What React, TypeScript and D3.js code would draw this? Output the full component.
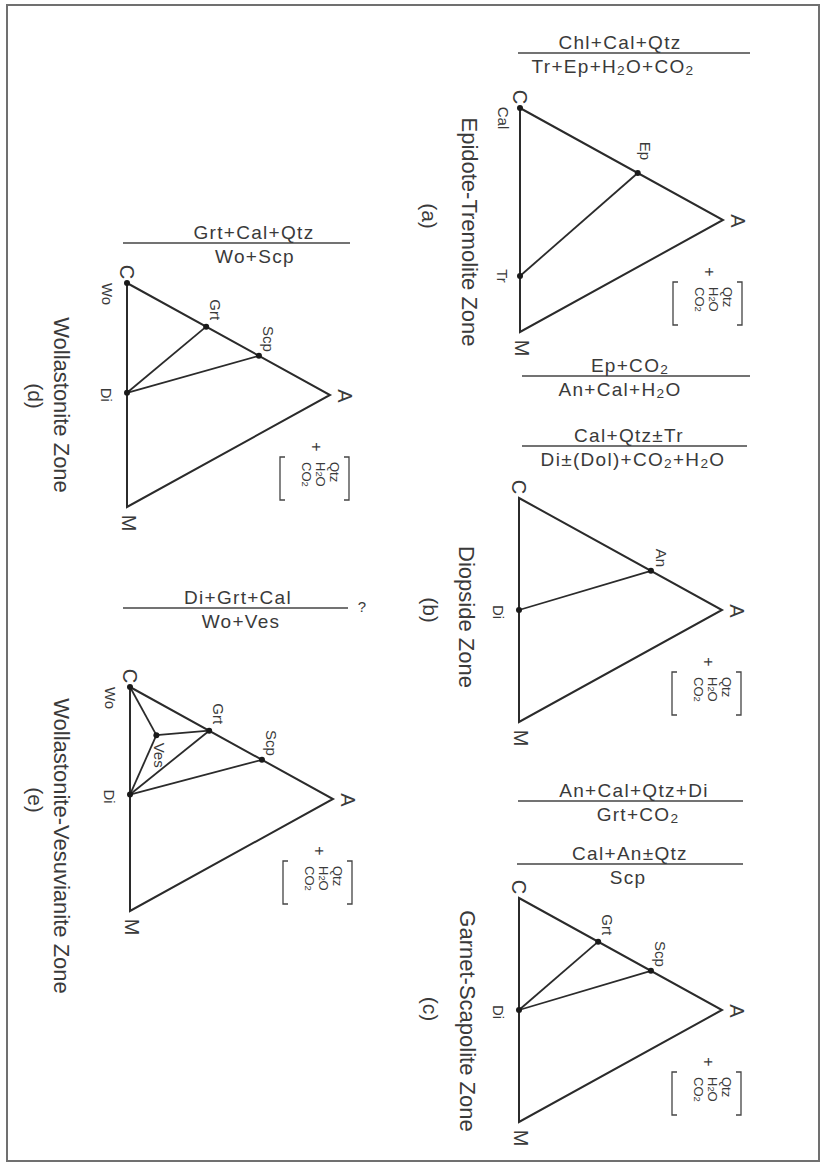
import React, { useEffect, useRef } from "react";
import * as d3 from "d3";

const W = 826;
const H = 1169;
const FONT = '"Liberation Sans", Arial, Helvetica, sans-serif';

// ---- data ----
const vertexNames = ["C", "A", "M"];
const panelLetters = ["(a)", "(b)", "(c)", "(d)", "(e)"];
const panelTitles = [
  "Epidote-Tremolite Zone",
  "Diopside Zone",
  "Garnet-Scapolite Zone",
  "Wollastonite Zone",
  "Wollastonite-Vesuvianite Zone",
];

// phase positions as fractions of C, A, M
const phasesA = [
  { name: "Cal", c: 1, a: 0, m: 0 },
  { name: "Ep", c: 0.42, a: 0.58, m: 0 },
  { name: "Tr", c: 0.25, a: 0, m: 0.75 },
];
const phasesB = [
  { name: "An", c: 0.35, a: 0.65, m: 0 },
  { name: "Di", c: 0.5, a: 0, m: 0.5 },
];
const phasesC = [
  { name: "Grt", c: 0.61, a: 0.39, m: 0 },
  { name: "Scp", c: 0.35, a: 0.65, m: 0 },
  { name: "Di", c: 0.5, a: 0, m: 0.5 },
];
const phasesD = [
  { name: "Wo", c: 1, a: 0, m: 0 },
  { name: "Grt", c: 0.61, a: 0.39, m: 0 },
  { name: "Scp", c: 0.35, a: 0.65, m: 0 },
  { name: "Di", c: 0.51, a: 0, m: 0.49 },
];
const phasesE = [
  { name: "Wo", c: 1, a: 0, m: 0 },
  { name: "Ves", c: 0.72, a: 0.13, m: 0.15 },
  { name: "Grt", c: 0.61, a: 0.39, m: 0 },
  { name: "Scp", c: 0.35, a: 0.65, m: 0 },
  { name: "Di", c: 0.52, a: 0, m: 0.48 },
];

const tiesA = [["Ep", "Tr"]];
const tiesB = [["Di", "An"]];
const tiesC = [["Di", "Grt"], ["Di", "Scp"]];
const tiesD = [["Di", "Grt"], ["Di", "Scp"]];
const tiesE = [["Wo", "Ves"], ["Ves", "Grt"], ["Ves", "Di"], ["Di", "Grt"], ["Di", "Scp"]];

const excessPhases = ["Qtz", "H2O", "CO2"];

const reactionNumerators = [
  "Chl+Cal+Qtz",
  "Ep+CO2",
  "Cal+Qtz±Tr",
  "An+Cal+Qtz+Di",
  "Cal+An±Qtz",
  "Grt+Cal+Qtz",
  "Di+Grt+Cal",
];
const reactionDenominators = [
  "Tr+Ep+H2O+CO2",
  "An+Cal+H2O",
  "Di±(Dol)+CO2+H2O",
  "Grt+CO2",
  "Scp",
  "Wo+Scp",
  "Wo+Ves",
];

// ---- layout (page coords) ----
const panelPhases = [phasesA, phasesB, phasesC, phasesD, phasesE];
const panelTies = [tiesA, tiesB, tiesC, tiesD, tiesE];
const panelOrigin = [[520, 108], [519, 498], [519, 898], [127, 283], [130, 687]];
const TRI_DEPTH = 203; // C-M side to A apex
const TRI_SIDE = 224; // C to M
const titlePos = [[470, 232], [467, 617], [468, 1021], [62, 405], [62, 846]];
const letterPos = [[430, 216], [431, 610], [431, 1009], [36, 396], [36, 800]];
const vertexOffset = { C: [0, -11], A: [15, 1], M: [2, 16] };
const labelOffset = {
  Cal: [-16, 10], Wo: [-19, 11], Ep: [8, -22], An: [11, -13], Grt: [10, -17],
  Scp: [10, -17], Tr: [-17, 0], Di: [-20, 2], Ves: [4, 20],
};
const reactionLayout = [
  { x1: 518, x2: 750, y: 53, nx: 620, dx: 613 },
  { x1: 522, x2: 750, y: 376, nx: 630, dx: 620 },
  { x1: 522, x2: 747, y: 446, nx: 629, dx: 633 },
  { x1: 518, x2: 743, y: 801, nx: 634, dx: 638 },
  { x1: 517, x2: 743, y: 864, nx: 630, dx: 628 },
  { x1: 123, x2: 350, y: 243, nx: 254, dx: 255 },
  { x1: 123, x2: 348, y: 608, nx: 238, dx: 241 },
];

const INK = "#2b2b2b";
const TXT = "#3a3a3a";

// writes a string into a text element, shrinking the 2 of H2O / CO2
function richText(sel, str, size) {
  const segs = [];
  for (let i = 0; i < str.length; i++) {
    const ch = str[i];
    const sub = ch === "2" && i > 0 && (str[i - 1] === "H" || str[i - 1] === "O");
    if (segs.length && segs[segs.length - 1].sub === sub) segs[segs.length - 1].t += ch;
    else segs.push({ t: ch, sub });
  }
  const shift = size * 0.12;
  segs.forEach((s, i) => {
    const ts = sel.append("tspan").text(s.t);
    if (s.sub) ts.attr("font-size", size * 0.72).attr("dy", shift);
    else if (i > 0) ts.attr("dy", -shift);
  });
}

function rotText(g, x, y, str, size, anchor = "middle") {
  const t = g
    .append("text")
    .attr("transform", `translate(${x},${y}) rotate(90)`)
    .attr("text-anchor", anchor)
    .attr("dominant-baseline", "central")
    .attr("font-size", size)
    .attr("fill", TXT);
  richText(t, str, size);
  return t;
}

const App = () => {
  const svgRef = useRef(null);

  useEffect(() => {
    const svg = d3.select(svgRef.current);
    svg.selectAll("*").remove();
    svg.attr("font-family", FONT);

    svg.append("rect").attr("width", W).attr("height", H).attr("fill", "#fff");

    // frame
    svg
      .append("rect")
      .attr("x", 7)
      .attr("y", 5)
      .attr("width", 812)
      .attr("height", 1156)
      .attr("fill", "none")
      .attr("stroke", "#707070")
      .attr("stroke-width", 2);

    // reactions (horizontal fractions)
    reactionNumerators.forEach((num, i) => {
      const L = reactionLayout[i];
      const g = svg.append("g");
      g.append("line")
        .attr("x1", L.x1)
        .attr("x2", L.x2)
        .attr("y1", L.y)
        .attr("y2", L.y)
        .attr("stroke", "#444")
        .attr("stroke-width", 1.4);
      const tn = g
        .append("text")
        .attr("x", L.nx)
        .attr("y", L.y - 4)
        .attr("text-anchor", "middle")
        .attr("font-size", 19)
        .attr("letter-spacing", 1.3)
        .attr("fill", TXT);
      richText(tn, num, 19);
      const td = g
        .append("text")
        .attr("x", L.dx)
        .attr("y", L.y + 20)
        .attr("text-anchor", "middle")
        .attr("font-size", 19)
        .attr("letter-spacing", 1.3)
        .attr("fill", TXT);
      richText(td, reactionDenominators[i], 19);
    });
    svg
      .append("text")
      .attr("x", 362)
      .attr("y", 612)
      .attr("text-anchor", "middle")
      .attr("font-size", 15)
      .attr("fill", TXT)
      .text("?");

    // ternary panels
    panelPhases.forEach((phases, i) => {
      const [x0, y0] = panelOrigin[i];
      const g = svg.append("g");
      const ax = d3.scaleLinear().domain([0, 1]).range([x0, x0 + TRI_DEPTH]);
      const sy = d3.scaleLinear().domain([0, 1]).range([y0, y0 + TRI_SIDE]);
      const proj = (d) => {
        const s = d.c + d.a + d.m;
        const a = d.a / s;
        const m = d.m / s;
        return [ax(a), sy(m + a / 2)];
      };
      const verts = [
        { c: 1, a: 0, m: 0 },
        { c: 0, a: 1, m: 0 },
        { c: 0, a: 0, m: 1 },
      ];
      const vp = verts.map(proj);

      g.append("path")
        .attr("d", d3.line()(vp) + "Z")
        .attr("fill", "none")
        .attr("stroke", INK)
        .attr("stroke-width", 2)
        .attr("stroke-linejoin", "miter");

      const byName = new Map(phases.map((p) => [p.name, proj(p)]));
      g.selectAll(".tie")
        .data(panelTies[i])
        .enter()
        .append("line")
        .attr("x1", (d) => byName.get(d[0])[0])
        .attr("y1", (d) => byName.get(d[0])[1])
        .attr("x2", (d) => byName.get(d[1])[0])
        .attr("y2", (d) => byName.get(d[1])[1])
        .attr("stroke", INK)
        .attr("stroke-width", 1.8);

      g.selectAll(".dot")
        .data(phases)
        .enter()
        .append("circle")
        .attr("cx", (d) => proj(d)[0])
        .attr("cy", (d) => proj(d)[1])
        .attr("r", 3)
        .attr("fill", "#1a1a1a");

      // vertex labels
      vertexNames.forEach((v, k) => {
        const [ox, oy] = vertexOffset[v];
        rotText(g, vp[k][0] + ox, vp[k][1] + oy, v, 20);
      });

      // phase labels
      phases.forEach((p) => {
        const [px, py] = proj(p);
        const [ox, oy] = labelOffset[p.name];
        rotText(g, px + ox, py + oy, p.name, 15);
      });

      // + [Qtz H2O CO2]
      const [Ax, Ay] = vp[1];
      rotText(g, Ax - 13, Ay + 52, "+", 16);
      excessPhases.forEach((s, k) => {
        rotText(g, Ax + 5 - k * 14, Ay + 67, s, 13, "start");
      });
      const by1 = Ay + 62;
      const by2 = Ay + 105;
      [
        [Ax + 19, -5],
        [Ax - 50, 5],
      ].forEach(([bx, tick]) => {
        g.append("path")
          .attr("d", `M${bx + tick},${by1}H${bx}V${by2}H${bx + tick}`)
          .attr("fill", "none")
          .attr("stroke", "#444")
          .attr("stroke-width", 1.3);
      });

      // title and panel letter
      rotText(g, titlePos[i][0], titlePos[i][1], panelTitles[i], 22);
      rotText(g, letterPos[i][0], letterPos[i][1], panelLetters[i], 21);
    });
  }, []);

  return (
    <svg
      ref={svgRef}
      width={W}
      height={H}
      style={{ position: "absolute", left: 0, top: 0, display: "block" }}
    />
  );
};

export default App;
